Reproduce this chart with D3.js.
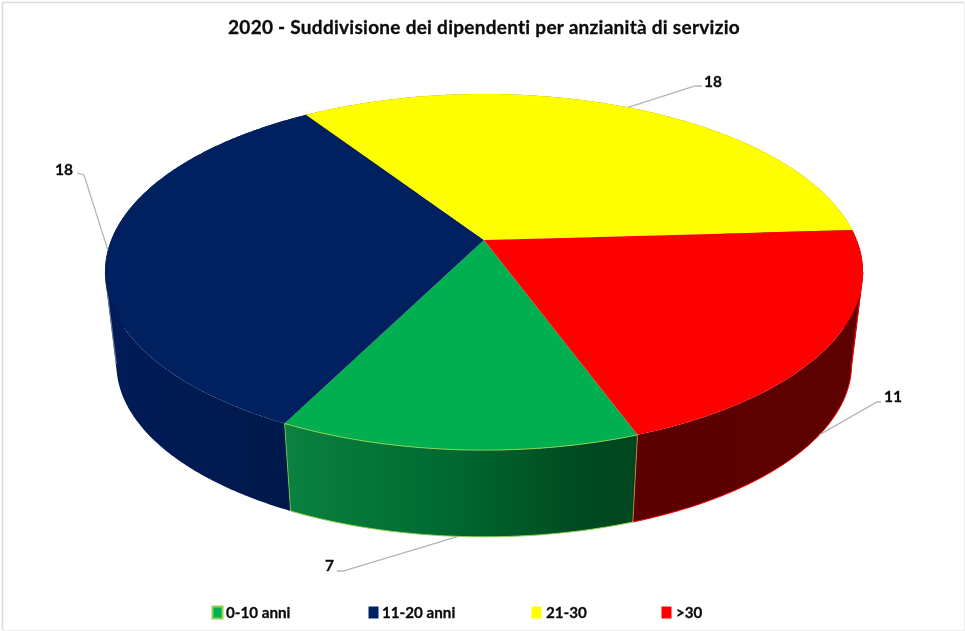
<!DOCTYPE html>
<html><head><meta charset="utf-8">
<script src="https://cdn.jsdelivr.net/npm/d3@7"></script>
<style>html,body{margin:0;padding:0;background:#fff}svg{display:block;filter:blur(0.4px)}text{font-family:Lato,sans-serif;font-weight:700;fill:#0c0c0c;stroke:#0c0c0c;stroke-width:0.3px}</style>
</head><body><svg id="c" width="965" height="631"></svg>
<script>
const title = "2020 - Suddivisione dei dipendenti per anzianità di servizio";
const categories = ["0-10 anni", "11-20 anni", "21-30", ">30"];
const values = [7, 18, 18, 11];
const topColors = ["#00b050", "#002060", "#ffff00", "#ff0000"];

// layout
const W = 965, H = 631, cx = 484, topY = 240, botY = 333;
const A = 372.8, B = 172.3, k = 0.18, botScale = 0.97, firstAngle = 160;
const legendX = [212, 368, 531, 661], legendTextX = [226, 382, 546, 676];
const leaderRim = ["bottom", "top", "top", "bottom"];
const leaderElbow = [[343, 571], [84, 175], [695, 86], [877, 402]];
const leaderEnd = [[337, 571], [77, 173], [702, 86], [881, 402]];
const labelPos = [[325, 571], [55, 175], [704, 87], [884, 402]];

const svg = d3.select("#c");
const defs = svg.append("defs");
const line = d3.line();
const rad = Math.PI / 180;

function project(deg, rim) {
  const x = Math.sin(deg * rad), y = -Math.cos(deg * rad), w = 1 - k * y;
  const s = rim === "bottom" ? botScale : 1, y0 = rim === "bottom" ? botY : topY;
  return [cx + s * A * x / w, y0 + s * B * y / w];
}
const pie = d3.pie().sort(null).startAngle(firstAngle * rad).endAngle((firstAngle + 360) * rad);
const slices = pie(values).map(d => ({...d, a0: d.startAngle / rad, a1: d.endAngle / rad}));
function arcAngles(a0, a1) {
  const n = Math.ceil(a1 - a0) * 2;
  return d3.range(n + 1).map(i => a0 + (a1 - a0) * i / n);
}

// frame
svg.append("rect").attr("width", W).attr("height", H).attr("fill", "#fff");
svg.append("path").attr("d", line([[2.5, H - 1], [2.5, 2.5], [W - 1, 2.5]])).attr("fill", "none").attr("stroke", "#dcdcdc").attr("stroke-width", 1.5);
svg.append("path").attr("d", line([[2.5, H - 0.5], [W - 0.5, H - 0.5], [W - 0.5, 2.5]])).attr("fill", "none").attr("stroke", "#eeeeee");

// side gradients
const sideStops = [
  [["0%", "#0a8240"], ["45%", "#006a31"], ["85%", "#004a20"], ["100%", "#00451f"]],
  [["0%", "#001b56"], ["60%", "#001a50"], ["100%", "#00184a"]],
  [["0%", "#808000"], ["100%", "#808000"]],
  [["0%", "#5a0000"], ["100%", "#5e0000"]]
];
slices.forEach((s, i) => {
  const xs = arcAngles(s.a0, s.a1).map(a => project(a, "top")[0]);
  const g = defs.append("linearGradient").attr("id", "side" + i).attr("gradientUnits", "userSpaceOnUse")
    .attr("x1", d3.min(xs)).attr("x2", d3.max(xs)).attr("y1", 0).attr("y2", 0);
  sideStops[i].forEach(st => g.append("stop").attr("offset", st[0]).attr("stop-color", st[1]));
});

// sides: drawn back to front
const sideGroup = svg.append("g");
[2, 1, 3, 0].forEach(i => {
  const s = slices[i], as = arcAngles(s.a0, s.a1);
  const d = d3.pairs(as).map(([a, b]) => {
    let q = [project(a, "top"), project(b, "top"), project(b, "bottom"), project(a, "bottom")];
    if (d3.polygonArea(q) < 0) q = q.reverse();
    return line(q) + "Z";
  }).join("");
  sideGroup.append("path").attr("d", d).attr("fill", `url(#side${i})`).attr("fill-rule", "nonzero");
});

// rim highlights
const silhouette = Math.acos(-k) / rad;
const red = slices[3], green = slices[0];
sideGroup.append("path").attr("fill", "none").attr("stroke", "#ff0000").attr("stroke-width", 1)
  .attr("d", line([project(silhouette, "top")].concat(arcAngles(silhouette + 360, red.a1).map(a => project(a, "bottom")))));
sideGroup.append("path").attr("fill", "none").attr("stroke", "#9aa3b5").attr("stroke-width", 0.7)
  .attr("d", line([project(360 - silhouette, "top"), project(360 - silhouette, "bottom")]));
sideGroup.append("path").attr("fill", "none").attr("stroke", "#c08a30").attr("stroke-width", 0.9)
  .attr("d", line([project(green.a0, "top"), project(green.a0, "bottom")]));
sideGroup.append("path").attr("fill", "none").attr("stroke", "#7fc650").attr("stroke-width", 0.8)
  .attr("d", line([project(green.a1, "top"), project(green.a1, "bottom")]));
sideGroup.append("path").attr("fill", "none").attr("stroke", "#92d050").attr("stroke-width", 1)
  .attr("d", line(arcAngles(green.a0, green.a1).map(a => project(a, "bottom"))));

// top faces
const topGroup = svg.append("g");
slices.forEach((s, i) => {
  const pts = [[cx, topY]].concat(arcAngles(s.a0, s.a1).map(a => project(a, "top")));
  topGroup.append("path").attr("d", line(pts) + "Z").attr("fill", topColors[i]);
});
topGroup.append("path").attr("fill", "none").attr("stroke", "#92d050").attr("stroke-width", 1)
  .attr("d", line(arcAngles(green.a0, green.a1).map(a => project(a, "top"))));

// leaders and data labels
slices.forEach((s, i) => {
  const start = project((s.a0 + s.a1) / 2, leaderRim[i]);
  svg.append("path").attr("fill", "none").attr("stroke", "#b5b5b5").attr("stroke-width", 1.3)
    .attr("d", line([start, leaderElbow[i], leaderEnd[i]]));
  svg.append("text").attr("x", labelPos[i][0]).attr("y", labelPos[i][1]).attr("font-size", 15.5).text(s.data);
});

// title
svg.append("text").attr("x", 484).attr("y", 33.5).attr("text-anchor", "middle").attr("font-size", 19).attr("letter-spacing", 0.27).text(title);

// legend
categories.forEach((c, i) => {
  const r = svg.append("rect").attr("x", legendX[i] + 0.5).attr("y", 606.5).attr("width", 10).attr("height", 12)
    .attr("fill", topColors[i]);
  if (i === 0) r.attr("stroke", "#92d050").attr("stroke-width", 2);
  svg.append("text").attr("x", legendTextX[i]).attr("y", 618).attr("font-size", 15.2).text(c);
});
</script></body></html>
